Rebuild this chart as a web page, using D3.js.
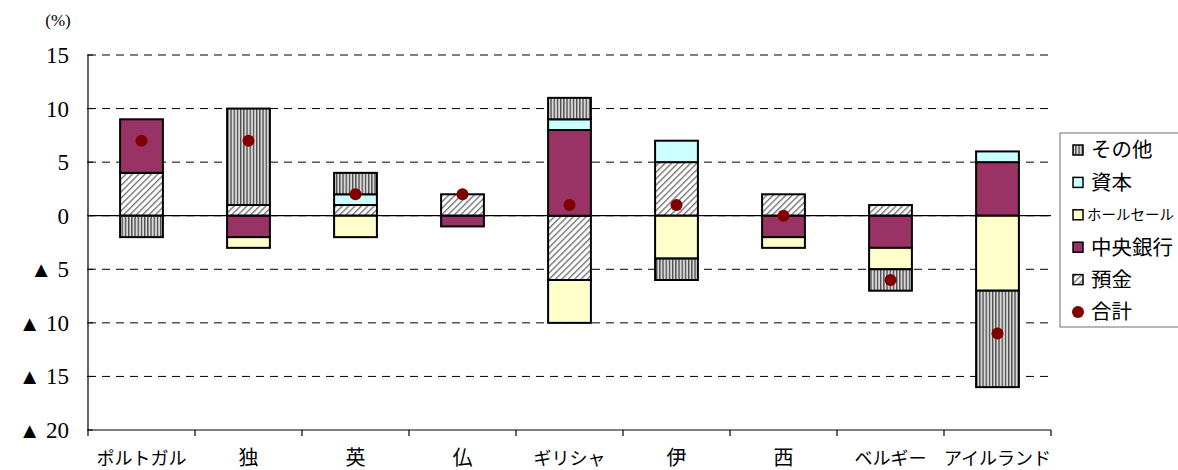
<!DOCTYPE html>
<html><head><meta charset="utf-8">
<script src="https://cdn.jsdelivr.net/npm/d3@7"></script>
<style>
html,body{margin:0;padding:0;background:#fff;overflow:hidden;}
svg{display:block;}
text{font-family:"Liberation Serif","Noto Sans CJK JP",serif;fill:#000;}
</style></head>
<body><svg id="chart" width="1178" height="470"></svg>
<script>
const categories = ["ポルトガル","独","英","仏","ギリシャ","伊","西","ベルギー","アイルランド"];
const deposits  = [4, 1, 1, 2, -6, 5, 2, 1, 0];
const central   = [5, -2, 0, -1, 8, 0, -2, -3, 5];
const wholesale = [0, -1, -2, 0, -4, -4, -1, -2, -7];
const capital   = [0, 0, 1, 0, 1, 2, 0, 0, 1];
const other     = [-2, 9, 2, 0, 2, -2, 0, -2, -9];
const total     = [7, 7, 2, 2, 1, 1, 0, -6, -11];
const yTicks = [15, 10, 5, 0, -5, -10, -15, -20];
const seriesNames = ["預金","中央銀行","ホールセール","資本","その他"];
const legendOrder = ["その他","資本","ホールセール","中央銀行","預金"];

(function(){
const svg = d3.select("#chart");
const defs = svg.append("defs");
const ps = defs.append("pattern").attr("id","stripe").attr("patternUnits","userSpaceOnUse").attr("width",3.2).attr("height",10);
ps.append("rect").attr("width",3.2).attr("height",10).attr("fill","#d8d8d8");
ps.append("rect").attr("x",0).attr("width",1.3).attr("height",10).attr("fill","#4a4a4a");
const ph = defs.append("pattern").attr("id","hatch").attr("patternUnits","userSpaceOnUse").attr("width",4.5).attr("height",4.5).attr("patternTransform","rotate(45)");
ph.append("rect").attr("width",4.5).attr("height",4.5).attr("fill","#fff");
ph.append("rect").attr("x",0).attr("width",1.4).attr("height",4.5).attr("fill","#777");

const fills = {"預金":"url(#hatch)","中央銀行":"#993366","ホールセール":"#FFFFCC","資本":"#CCFFFF","その他":"url(#stripe)"};

const pl = 88, pr = 1051, pt = 55, pb = 430;
const x = d3.scaleBand().domain(categories).range([pl, pr]).paddingInner(0).paddingOuter(0);
const y = d3.scaleLinear().domain([-20, 15]).range([pb, pt]);

svg.append("g").selectAll("line").data(yTicks.filter(d => d !== -20)).join("line")
  .attr("x1", pl).attr("x2", pr).attr("y1", d => y(d)).attr("y2", d => y(d))
  .attr("stroke","#000").attr("stroke-width",1).attr("stroke-dasharray","8,6");

const rows = categories.map((c,i) => ({cat:c, "預金":deposits[i], "中央銀行":central[i], "ホールセール":wholesale[i], "資本":capital[i], "その他":other[i]}));
const stacked = d3.stack().keys(seriesNames).offset(d3.stackOffsetDiverging)(rows);
const bw = x.bandwidth() * 0.4;
const gBars = svg.append("g");
stacked.forEach(s => {
  gBars.append("g").selectAll("rect").data(s.filter(d => d[1] !== d[0])).join("rect")
    .attr("x", d => x(d.data.cat) + (x.bandwidth() - bw) / 2)
    .attr("width", bw)
    .attr("y", d => y(Math.max(d[0], d[1])))
    .attr("height", d => Math.abs(y(d[0]) - y(d[1])))
    .attr("fill", fills[s.key]).attr("stroke","#000").attr("stroke-width",2);
});

svg.append("line").attr("x1",pl).attr("x2",pr).attr("y1",y(0)).attr("y2",y(0)).attr("stroke","#000").attr("stroke-width",1.3);

svg.append("g").selectAll("circle").data(total).join("circle")
  .attr("cx", (d,i) => x(categories[i]) + x.bandwidth()/2).attr("cy", d => y(d)).attr("r", 6).attr("fill","#800000");

svg.append("line").attr("x1",pl).attr("x2",pl).attr("y1",pt).attr("y2",pb).attr("stroke","#000").attr("stroke-width",1.2);
svg.append("line").attr("x1",pl).attr("x2",pr).attr("y1",pb).attr("y2",pb).attr("stroke","#000").attr("stroke-width",1.2);
const bounds = categories.map(c => x(c)).concat([pr]);
svg.append("g").selectAll("line").data(bounds).join("line")
  .attr("x1", d => d).attr("x2", d => d).attr("y1", pb).attr("y2", pb + 6)
  .attr("stroke","#000").attr("stroke-width",1.2);
svg.append("g").selectAll("line").data(yTicks).join("line")
  .attr("x1", pl - 1).attr("x2", pl + 5).attr("y1", d => y(d)).attr("y2", d => y(d))
  .attr("stroke","#000").attr("stroke-width",1);

const yl = svg.append("g").selectAll("text").data(yTicks).join("text")
  .attr("x", 69).attr("y", d => y(d)).attr("dy","0.35em").attr("text-anchor","end")
  .attr("font-size", 23);
yl.filter(d => d < 0).append("tspan").attr("font-size", 22).text("▲ ");
yl.append("tspan").text(d => String(Math.abs(d)));
svg.append("text").attr("x",58).attr("y",26).attr("text-anchor","middle").attr("font-size",17).text("(%)");

svg.append("g").selectAll("text").data(categories).join("text")
  .attr("x", d => x(d) + x.bandwidth()/2).attr("y", 465).attr("text-anchor","middle")
  .attr("font-size", d => d.length > 1 ? 18 : 20)
  .text(d => d);

const lg = svg.append("g");
lg.append("rect").attr("x",1060).attr("y",133).attr("width",140).attr("height",194).attr("fill","#fff").attr("stroke","#888").attr("stroke-width",1.2);
const ly = d3.scalePoint().domain(legendOrder.concat(["合計"])).range([150, 312]);
legendOrder.forEach(k => {
  lg.append("rect").attr("x",1073).attr("y",ly(k)-5).attr("width",10).attr("height",10).attr("fill",fills[k]).attr("stroke","#000").attr("stroke-width",1.5);
  lg.append("text").attr("x",k === "ホールセール" ? 1087 : 1091).attr("y",ly(k)).attr("dy","0.36em").attr("font-size", k === "ホールセール" ? 14.5 : 20.5).text(k);
});
lg.append("circle").attr("cx",1078).attr("cy",ly("合計")).attr("r",6).attr("fill","#800000");
lg.append("text").attr("x",1091).attr("y",ly("合計")).attr("dy","0.36em").attr("font-size",20.5).text("合計");
})();
</script></body></html>
